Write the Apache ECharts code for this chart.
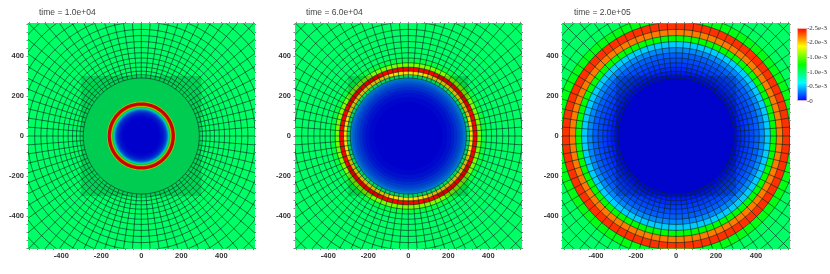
<!DOCTYPE html>
<html><head><meta charset="utf-8">
<style>html,body{margin:0;padding:0;background:#fff}#main{width:830px;height:274px;filter:blur(0.45px)}</style>
<script src="https://cdn.jsdelivr.net/npm/echarts@6/dist/echarts.min.js"></script>
</head><body><div id="main"></div>
<script>
// ---------- data ----------
const timeLabels = ['time = 1.0e+04', 'time = 6.0e+04', 'time = 2.0e+05'];
const axisTickLabels = [-400, -200, 0, 200, 400];
const axisMinorTicks = [-560,-520,-480,-440,-400,-360,-320,-280,-240,-200,-160,-120,-80,-40,0,40,80,120,160,200,240,280,320,360,400,440,480,520,560];
const colorbarTicks = [0, 0.5, 1.0, 1.5, 2.0, 2.5];
const colorbarLabels = ['0', '0.5e-3', '1.0e-3', '1.0e-3', '2.0e-3', '2.5e-3'];
// mesh: outer radius of each ring of cells, and number of spokes in a full turn
const meshRadii = [290, 306, 324, 344, 366, 390, 416, 442, 472, 502, 533, 570, 610, 655, 705, 760, 820, 890];
const spokeAngles = [0,4.5,9,13.5,18,22.5,27,31.5,36,40.5,45,49.5,54,58.5,63,67.5,72,76.5,81,85.5,90,94.5,99,103.5,108,112.5,117,121.5,126,130.5,135,139.5,144,148.5,153,157.5,162,166.5,171,175.5,180,184.5,189,193.5,198,202.5,207,211.5,216,220.5,225,229.5,234,238.5,243,247.5,252,256.5,261,265.5,270,274.5,279,283.5,288,292.5,297,301.5,306,310.5,315,319.5,324,328.5,333,337.5,342,346.5,351,355.5];
const coreRadius = 290, shadeBox = 300;
// value (1e-3) in each mesh ring, from r = 290 outward
const ringValues1 = [1,1,1,1,1,1,1,1,1,1,1,1,1,1,1,1,1];
const ringValues2 = [0.95,1.95,2.5,1.55,1.08,1,1,1,1,1,1,1,1,1,1,1,1];
const ringValues3 = [0.03,0.06,0.1,0.14,0.18,0.23,0.33,0.5,1.25,2.2,2.38,1.2,1.02,1,1,1,1];
// smooth field inside the core: outer edge of each band and its value
const coreEdges1 = [90,100,108,115,120,125,129,132,135,138,141,144,147,150,153,168,172,290];
const coreValues1 = [0,0.02,0.05,0.09,0.14,0.2,0.28,0.38,0.5,0.65,0.85,1.1,1.45,1.9,2.3,2.5,1.7,1];
const coreEdges2 = [170,195,215,230,245,258,268,276,284,290];
const coreValues2 = [0,0.02,0.05,0.09,0.14,0.19,0.24,0.29,0.34,0.4];
const coreEdges3 = [290];
const coreValues3 = [0.01];

// ---------- colour scale ----------
const stops = [[0,[0,0,255]],[0.25,[0,255,255]],[0.5,[0,255,0]],[0.75,[255,255,0]],[1,[255,0,0]]];
function ramp(v, k) {
  const t = Math.max(0, Math.min(1, v / 2.5));
  let i = 0; while (i < stops.length - 2 && t > stops[i+1][0]) i++;
  const a = stops[i], b = stops[i+1], f = (t - a[0]) / (b[0] - a[0]);
  const c = a[1].map((x, j) => Math.round((x + (b[1][j] - x) * f) * k));
  return `rgb(${c[0]},${c[1]},${c[2]})`;
}
const rad = d => d * Math.PI / 180;
const meshStroke = 'rgba(5,40,30,0.78)';

// ---------- custom renderers ----------
function renderDisc(params, api) {
  const r = api.value(0), pts = [];
  for (let a = 0; a < 360; a += 2) pts.push(api.coord([r * Math.cos(rad(a)), r * Math.sin(rad(a))]));
  return { type: 'polygon', shape: { points: pts }, style: { fill: ramp(api.value(1), api.value(2)) } };
}
function renderShade(params, api) {
  const sx = api.value(0), sy = api.value(1), pts = [api.coord([sx * shadeBox, sy * shadeBox]), api.coord([sx * shadeBox, 0])];
  for (let a = 0; a <= 90; a += 3) pts.push(api.coord([sx * coreRadius * Math.cos(rad(a)), sy * coreRadius * Math.sin(rad(a))]));
  pts.push(api.coord([0, sy * shadeBox]));
  return { type: 'polygon', shape: { points: pts }, style: { fill: 'rgba(0,0,0,0.16)' } };
}
function renderRing(params, api) {
  const r = api.value(0), pts = [];
  for (let a = 0; a <= 360; a += 2) pts.push(api.coord([r * Math.cos(rad(a)), r * Math.sin(rad(a))]));
  return { type: 'polyline', shape: { points: pts }, style: { stroke: meshStroke, lineWidth: 0.8, fill: null } };
}
function renderSpoke(params, api) {
  const a = rad(api.value(0)), r0 = meshRadii[0], r1 = meshRadii[meshRadii.length - 1];
  const pts = [api.coord([r0 * Math.cos(a), r0 * Math.sin(a)]), api.coord([r1 * Math.cos(a), r1 * Math.sin(a)])];
  return { type: 'line', shape: { x1: pts[0][0], y1: pts[0][1], x2: pts[1][0], y2: pts[1][1] }, style: { stroke: meshStroke, lineWidth: 0.8 } };
}

// ---------- panels ----------
const panels = [
  { left: 28, title: 39, ring: ringValues1, edges: coreEdges1, core: coreValues1 },
  { left: 295, title: 306, ring: ringValues2, edges: coreEdges2, core: coreValues2 },
  { left: 562.7, title: 574, ring: ringValues3, edges: coreEdges3, core: coreValues3 }
];
const grids = [], xAxes = [], yAxes = [], series = [], titles = [];
const axisColor = '#666';
function axisBase(gi, pos, labels) {
  const vertical = pos === 'left' || pos === 'right';
  return {
    gridIndex: gi, type: 'value', position: pos, min: vertical ? -563 : -566.5, max: vertical ? 563 : 566.5,
    splitLine: { show: false }, axisLine: { show: true, onZero: false, lineStyle: { color: '#888', width: 0.8 } },
    axisTick: { show: true, inside: false, length: 1.5, customValues: axisMinorTicks, lineStyle: { color: axisColor, width: 0.8 } },
    axisLabel: { show: labels, customValues: axisTickLabels, margin: vertical ? 4 : 3, color: '#333', fontSize: 7.5, fontWeight: 'bold', fontFamily: 'Liberation Sans' }
  };
}
panels.forEach((p, i) => {
  grids.push({ left: p.left, top: 23.4, width: 226.6, height: 225.2, show: false });
  xAxes.push(axisBase(i, 'bottom', true), axisBase(i, 'top', false));
  yAxes.push(axisBase(i, 'left', true), axisBase(i, 'right', false));
  const xi = i * 2, yi = i * 2;
  const discs = [];
  for (let k = p.ring.length - 1; k >= 0; k--) discs.push([meshRadii[k + 1], p.ring[k], 1]);
  for (let k = p.edges.length - 1; k >= 0; k--) discs.push([p.edges[k], p.core[k], 0.8]);
  const common = { type: 'custom', coordinateSystem: 'cartesian2d', xAxisIndex: xi, yAxisIndex: yi, silent: true, clip: true, animation: false };
  series.push({ ...common, name: 'field' + i, renderItem: renderDisc, data: discs });
  series.push({ ...common, name: 'shade' + i, renderItem: renderShade, data: [[1,1],[-1,1],[-1,-1],[1,-1]] });
  series.push({ ...common, name: 'rings' + i, renderItem: renderRing, data: meshRadii.map(r => [r, 0]) });
  series.push({ ...common, name: 'spokes' + i, renderItem: renderSpoke, data: spokeAngles.map(a => [a, 0]) });
  titles.push({ text: timeLabels[i], left: p.title, top: 8.5, padding: 0, textStyle: { fontSize: 8.5, fontWeight: 'normal', color: '#444', fontFamily: 'Liberation Sans' } });
});

// ---------- colour bar ----------
grids.push({ left: 797, top: 28, width: 12, height: 73, show: false });
xAxes.push({ gridIndex: 3, type: 'category', data: [''], show: false });
yAxes.push({
  gridIndex: 3, type: 'value', position: 'right', min: 0, max: 2.5, interval: 0.5,
  splitLine: { show: false }, axisLine: { show: false },
  axisTick: { show: true, length: 2, lineStyle: { color: '#777', width: 0.8 } },
  axisLabel: { margin: 2, color: '#333', fontSize: 7, fontFamily: 'Liberation Serif', formatter: v => colorbarLabels[colorbarTicks.indexOf(+v)] }
});
series.push({
  type: 'bar', xAxisIndex: 6, yAxisIndex: 6, barWidth: '100%', silent: true, animation: false, data: [2.5],
  itemStyle: { borderColor: '#f4c8c8', borderWidth: 0.8,
    color: new echarts.graphic.LinearGradient(0, 1, 0, 0, stops.map(s => ({ offset: s[0], color: ramp(s[0] * 2.5, 1) }))) }
});

echarts.init(document.getElementById('main'), null, { renderer: 'canvas' }).setOption({
  animation: false, backgroundColor: '#fff', title: titles, grid: grids, xAxis: xAxes, yAxis: yAxes, series
});
</script></body></html>
